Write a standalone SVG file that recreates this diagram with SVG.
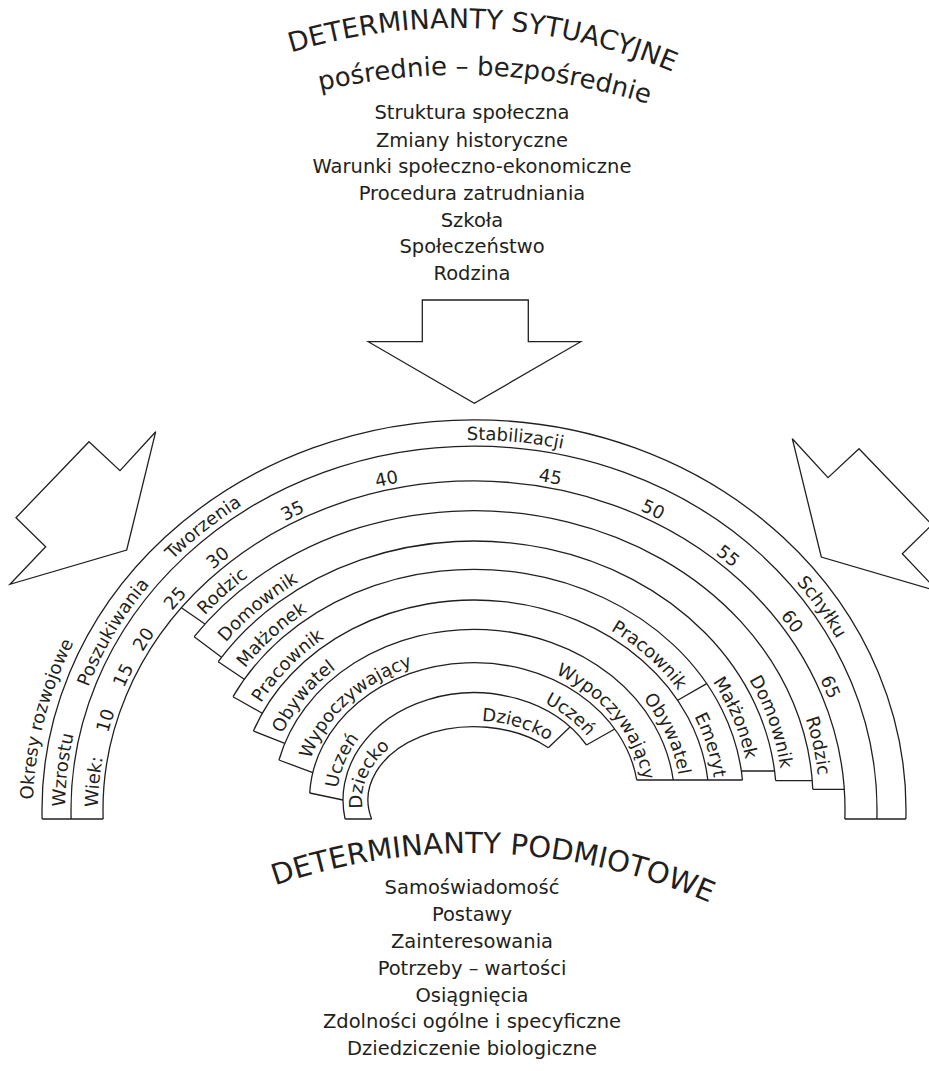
<svg xmlns="http://www.w3.org/2000/svg" width="929" height="1071" viewBox="0 0 929 1071">
<style>
.ln{fill:none;stroke:#231f20;stroke-width:1.3}
.ar{fill:#fff;stroke:#231f20;stroke-width:1.3;stroke-linejoin:miter}
text{font-family:"DejaVu Sans","Liberation Sans",sans-serif;fill:#231f20}
.lb{font-size:18px}
.ls{font-size:19.5px;text-anchor:middle}
.hd{font-size:27px}
</style>
<defs>
<path id="pOk" d="M33.15,799.55 A441,399 0 0,1 408.82,415.38"/>
<path id="pWz" d="M65.02,806.77 A409,370 0 0,1 406.49,445.07"/>
<path id="pPo" d="M88.22,687.1 A409,370 0 0,1 540.80,444.97"/>
<path id="pTw" d="M172.45,560.03 A409,370 0 0,1 693.76,497.95"/>
<path id="pSt" d="M466.86,440.06 A409,370 0 0,1 875.49,739.40"/>
<path id="pSc" d="M796.30,582.21 A409,370 0 0,1 777.94,1057.58"/>
<path id="pWi" d="M98.01,807.08 A376,334 0 0,1 411.94,480.58"/>
<path id="a10" d="M108.08,733.16 A376,334 0 0,1 495.64,476.55"/>
<path id="a15" d="M123.92,688.13 A376,334 0 0,1 548.32,482.59"/>
<path id="a20" d="M142.63,652.17 A376,334 0 0,1 591.44,492.71"/>
<path id="a25" d="M172.14,610.86 A376,334 0 0,1 642.36,511.35"/>
<path id="a30" d="M212.81,569.74 A376,334 0 0,1 695.01,539.79"/>
<path id="a35" d="M284.86,521.33 A376,334 0 0,1 761.19,594.42"/>
<path id="a40" d="M376.68,487.38 A376,334 0 0,1 814.77,668.85"/>
<path id="a45" d="M538.0,480.87 A376,334 0 0,1 849.99,808.83"/>
<path id="a50" d="M640.01,510.32 A376,334 0 0,1 835.07,903.18"/>
<path id="a55" d="M715.19,553.77 A376,334 0 0,1 799.95,976.50"/>
<path id="a60" d="M780.11,616.05 A376,334 0 0,1 742.18,1044.10"/>
<path id="a65" d="M819.85,678.96 A376,334 0 0,1 679.33,1089.80"/>
<path id="rRoL" d="M204.75,615.37 A345,295.3 0 0,1 639.68,540.98"/>
<path id="rRoR" d="M805.63,718.60 A345,295.3 0 0,1 625.24,1065.41"/>
<path id="rDoL" d="M226.01,642.37 A308.5,265 0 0,1 611.65,562.84"/>
<path id="rDoR" d="M748.88,679.69 A308.5,265 0 0,1 659.66,1011.64"/>
<path id="rMaL" d="M245.07,668.32 A275.5,236.7 0 0,1 585.18,583.43"/>
<path id="rMaR" d="M712.59,681.65 A275.5,236.7 0 0,1 651.09,981.32"/>
<path id="rPrL" d="M261.21,703.29 A241,206 0 0,1 548.47,604.08"/>
<path id="rPrR" d="M610.50,630.23 A241,206 0 0,1 693.30,885.43"/>
<path id="rEm" d="M694.17,716.21 A241,206 0 0,1 608.76,970.78"/>
<path id="rObL" d="M282.44,733.81 A206.6,176.7 0 0,1 516.95,627.16"/>
<path id="rObR" d="M643.24,698.65 A206.6,176.7 0 0,1 620.09,924.95"/>
<path id="rWyL" d="M310.52,759.30 A170.5,143.3 0 0,1 493.30,657.62"/>
<path id="rWyR" d="M555.36,674.07 A170.5,143.3 0 0,1 635.69,845.47"/>
<path id="rUcL" d="M337.75,788.16 A137,113.3 0 0,1 464.44,686.98"/>
<path id="rUcR" d="M544.56,702.88 A137,113.3 0 0,1 601.90,840.60"/>
<path id="rDzL" d="M362.61,808.29 A112,79.3 0 0,1 443.13,723.77"/>
<path id="rDzR" d="M481.81,720.89 A112,79.3 0 0,1 585.39,791.71"/>
<path id="h1" d="M175,103.03 A560,560 0 0,1 735,103.03"/>
<path id="h2" d="M160,151.7 A625,625 0 0,1 760,151.7"/>
<path id="h3" d="M170,933.4 A600,600 0 0,1 770,933.4"/>
</defs>
<rect width="929" height="1071" fill="#fff"/>

<g id="heading-situational">
<text class="hd"><textPath href="#h1" startOffset="321.7" text-anchor="middle">DETERMINANTY SYTUACYJNE</textPath></text>
<text style="font-size:26px"><textPath href="#h2" startOffset="337.9" text-anchor="middle">pośrednie – bezpośrednie</textPath></text>
</g>
<g id="list-situational">
<text class="ls" x="472" y="119.3">Struktura społeczna</text>
<text class="ls" x="472" y="146.7">Zmiany historyczne</text>
<text class="ls" x="472" y="173.3">Warunki społeczno-ekonomiczne</text>
<text class="ls" x="472" y="200">Procedura zatrudniania</text>
<text class="ls" x="472" y="226.7">Szkoła</text>
<text class="ls" x="472" y="253.3">Społeczeństwo</text>
<text class="ls" x="472" y="280">Rodzina</text>
</g>

<g id="arrow-top"><polygon class="ar" points="422.3,300 528.3,300 528.3,341.7 580.7,341.7 474.3,403.3 368.3,341.7 422.3,341.7"/></g>
<g id="arrow-left"><polygon class="ar" points="89,441.7 120,470.7 155.7,431.7 126.7,550 10,584.3 45.7,546.7 16,517.7"/></g>
<g id="arrow-right"><polygon class="ar" points="859,448.7 828,477.7 792.3,438.7 821.3,557 938,591.3 902.3,553.7 932,524.7"/></g>

<g id="rainbow-lines">
<path class="ln" d="M42.12,819 A432,390 0 1,1 905.88,819"/>
<path class="ln" d="M71.12,819 A403,364 0 1,1 876.88,819"/>
<path class="ln" d="M103.14,819 A371,329 0 1,1 844.86,819"/>
<path class="ln" d="M194.17,636.7 A339,289.3 0 0,1 812.77,789.3"/>
<path class="ln" d="M218.24,661.7 A302.5,259 0 0,1 775.66,780.7"/>
<path class="ln" d="M233.03,696.7 A269.5,230.7 0 0,1 742.49,780"/>
<path class="ln" d="M253.43,731 A235,200 0 0,1 707.82,780"/>
<path class="ln" d="M278.98,760 A200.6,170.7 0 0,1 673.22,780"/>
<path class="ln" d="M309.71,793 A164.5,137.3 0 0,1 636.75,780"/>
<path class="ln" d="M345.07,819 A131,107.3 0 0,1 586.48,745"/>
<path class="ln" d="M371.62,819 A106,73.3 0 0,1 548.3,747.72"/>
<path class="ln" d="M42.12,819 H103.14 M844.86,819 H905.88 M345.07,819 H371.62"/>
<path class="ln" d="M181.43,607.7 L204.95,624 M194.17,636.7 L221.55,657.3 M218.24,661.7 L244.33,679.3 M233.03,696.7 L262.23,713.3 M253.43,731 L284.79,743.3 M278.98,760 L312.78,772.7 M309.71,793 L343,800"/>
<path class="ln" d="M812.77,789.3 H844.27 M775.66,780.7 H812.24 M741.36,771 H774.6 M636.75,780 H742.49"/>
<path class="ln" d="M677.7,700.27 L706.7,683.63 M586.48,745 L614.8,729 M548.3,747.72 L570,726.99"/>
</g>

<g id="periods">
<text class="lb"><textPath href="#pOk">Okresy rozwojowe</textPath></text>
<text class="lb"><textPath href="#pWz">Wzrostu</textPath></text>
<text class="lb"><textPath href="#pPo">Poszukiwania</textPath></text>
<text class="lb"><textPath href="#pTw">Tworzenia</textPath></text>
<text class="lb"><textPath href="#pSt">Stabilizacji</textPath></text>
<text class="lb"><textPath href="#pSc">Schyłku</textPath></text>
</g>
<g id="ages">
<text class="lb"><textPath href="#pWi">Wiek:</textPath></text>
<text class="lb"><textPath href="#a10">10</textPath></text>
<text class="lb"><textPath href="#a15">15</textPath></text>
<text class="lb"><textPath href="#a20">20</textPath></text>
<text class="lb"><textPath href="#a25">25</textPath></text>
<text class="lb"><textPath href="#a30">30</textPath></text>
<text class="lb"><textPath href="#a35">35</textPath></text>
<text class="lb"><textPath href="#a40">40</textPath></text>
<text class="lb"><textPath href="#a45">45</textPath></text>
<text class="lb"><textPath href="#a50">50</textPath></text>
<text class="lb"><textPath href="#a55">55</textPath></text>
<text class="lb"><textPath href="#a60">60</textPath></text>
<text class="lb"><textPath href="#a65">65</textPath></text>
</g>
<g id="roles">
<text class="lb"><textPath href="#rRoL">Rodzic</textPath></text>
<text class="lb"><textPath href="#rRoR">Rodzic</textPath></text>
<text class="lb"><textPath href="#rDoL">Domownik</textPath></text>
<text class="lb"><textPath href="#rDoR">Domownik</textPath></text>
<text class="lb"><textPath href="#rMaL">Małżonek</textPath></text>
<text class="lb"><textPath href="#rMaR">Małżonek</textPath></text>
<text class="lb"><textPath href="#rPrL">Pracownik</textPath></text>
<text class="lb"><textPath href="#rPrR">Pracownik</textPath></text>
<text class="lb"><textPath href="#rEm">Emeryt</textPath></text>
<text class="lb"><textPath href="#rObL">Obywatel</textPath></text>
<text class="lb"><textPath href="#rObR">Obywatel</textPath></text>
<text class="lb"><textPath href="#rWyL">Wypoczywający</textPath></text>
<text class="lb"><textPath href="#rWyR">Wypoczywający</textPath></text>
<text class="lb"><textPath href="#rUcL">Uczeń</textPath></text>
<text class="lb"><textPath href="#rUcR">Uczeń</textPath></text>
<text class="lb"><textPath href="#rDzL">Dziecko</textPath></text>
<text class="lb"><textPath href="#rDzR">Dziecko</textPath></text>
</g>

<g id="heading-personal">
<text style="font-size:29px"><textPath href="#h3" startOffset="338" text-anchor="middle">DETERMINANTY PODMIOTOWE</textPath></text>
</g>
<g id="list-personal">
<text class="ls" x="472" y="894">Samoświadomość</text>
<text class="ls" x="472" y="920.7">Postawy</text>
<text class="ls" x="472" y="948.3">Zainteresowania</text>
<text class="ls" x="472" y="975">Potrzeby – wartości</text>
<text class="ls" x="472" y="1001.7">Osiągnięcia</text>
<text class="ls" x="472" y="1028.3">Zdolności ogólne i specyficzne</text>
<text class="ls" x="472" y="1055">Dziedziczenie biologiczne</text>
</g>
</svg>
